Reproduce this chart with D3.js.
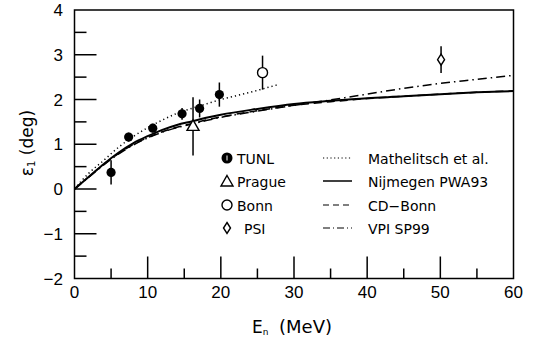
<!DOCTYPE html>
<html><head><meta charset="utf-8">
<script src="https://cdn.jsdelivr.net/npm/d3@7"></script>
<style>body{margin:0;background:#fff}svg{display:block}text{font-family:"Liberation Sans",Arial,sans-serif;fill:#000}.dv{font-family:"DejaVu Sans",sans-serif}</style>
</head><body><svg id="c" width="540" height="347"></svg>
<script>
// Data
const tunlE = [5.0, 7.4, 10.7, 14.7, 17.1, 19.8];
const tunlY = [0.37, 1.16, 1.36, 1.68, 1.80, 2.11];
const tunlErr = [0.27, 0.10, 0.10, 0.13, 0.20, 0.27];
const pragueE = [16.2], pragueY = [1.40], pragueErr = [0.65];
const bonnE = [25.7], bonnY = [2.60], bonnErr = [0.38];
const psiE = [50.1], psiY = [2.89], psiErr = [0.30];

const mathE = [0, 1, 2, 4, 6, 8, 10, 12, 14, 16, 18, 20, 22, 24, 26, 28];
const mathY = [0, 0.19, 0.36, 0.64, 0.93, 1.17, 1.37, 1.54, 1.69, 1.80, 1.90, 2.00, 2.08, 2.16, 2.25, 2.34];
const nijE = [0, 1, 2, 4, 6, 8, 10, 12, 14, 16, 18, 20, 25, 30, 35, 40, 45, 50, 55, 60];
const nijY = [0, 0.14, 0.28, 0.56, 0.81, 1.02, 1.18, 1.32, 1.43, 1.51, 1.59, 1.66, 1.79, 1.90, 1.97, 2.03, 2.07, 2.12, 2.16, 2.19];
const cdbE = [0, 2, 4, 6, 8, 10, 12, 14, 16, 18, 20, 25, 30, 35, 40, 45, 50, 55, 60];
const cdbY = [0, 0.28, 0.55, 0.79, 0.99, 1.15, 1.28, 1.38, 1.46, 1.54, 1.61, 1.75, 1.87, 1.95, 2.02, 2.07, 2.12, 2.16, 2.19];
const vpiE = [0, 2, 4, 6, 8, 10, 12, 14, 16, 18, 20, 25, 30, 35, 40, 45, 50, 55, 60];
const vpiY = [0, 0.27, 0.54, 0.78, 0.98, 1.14, 1.27, 1.37, 1.45, 1.53, 1.60, 1.74, 1.87, 1.99, 2.12, 2.25, 2.36, 2.45, 2.54];

const xTicks = [0, 10, 20, 30, 40, 50, 60];
const yTicks = [-2, -1, 0, 1, 2, 3, 4];
const legendData = ["TUNL", "Prague", "Bonn", "PSI"];
const legendCurves = ["Mathelitsch et al.", "Nijmegen PWA93", "CD\u2212Bonn", "VPI SP99"];

const svg = d3.select("#c");
const L = 74.5, R = 513.5, T = 10, B = 278.5;
const x = d3.scaleLinear().domain([0, 60]).range([L, R]);
const y = d3.scaleLinear().domain([-2, 4]).range([B, T]);

// frame
svg.append("rect").attr("x", L).attr("y", T).attr("width", R - L).attr("height", B - T)
  .attr("fill", "none").attr("stroke", "#000").attr("stroke-width", 1.5);

// x axis ticks
const xMinor = d3.range(5, 60, 10);
svg.append("g").selectAll("line").data(xTicks.slice(1, -1)).join("line")
  .attr("x1", d => x(d)).attr("x2", d => x(d)).attr("y1", B).attr("y2", B - 22)
  .attr("stroke", "#000").attr("stroke-width", 1.5);
svg.append("g").selectAll("line").data(xMinor).join("line")
  .attr("x1", d => x(d)).attr("x2", d => x(d)).attr("y1", B).attr("y2", B - 10)
  .attr("stroke", "#000").attr("stroke-width", 1.5);
svg.append("g").selectAll("text").data(xTicks).join("text")
  .attr("x", d => x(d)).attr("y", 298).attr("text-anchor", "middle").attr("font-size", 17)
  .text(d => d);

// y axis ticks
const yMinor = d3.range(-1.5, 4, 1);
svg.append("g").selectAll("line").data(yTicks.slice(1, -1)).join("line")
  .attr("x1", L).attr("x2", L + 22).attr("y1", d => y(d)).attr("y2", d => y(d))
  .attr("stroke", "#000").attr("stroke-width", 1.5);
svg.append("g").selectAll("line").data(yMinor).join("line")
  .attr("x1", L).attr("x2", L + 12).attr("y1", d => y(d)).attr("y2", d => y(d))
  .attr("stroke", "#000").attr("stroke-width", 1.5);
svg.append("g").selectAll("text").data(yTicks).join("text")
  .attr("x", 63).attr("y", d => y(d) + 6).attr("text-anchor", "end").attr("font-size", 17)
  .text(d => d < 0 ? "\u2212" + Math.abs(d) : d);

// axis titles
const xt = svg.append("text").attr("class", "dv").attr("x", 252).attr("y", 333).attr("font-size", 17);
xt.append("tspan").text("E");
xt.append("tspan").attr("font-size", 9).attr("dy", 2).text("n");
xt.append("tspan").attr("x", 279).attr("dy", -2).attr("font-size", 18).text("(MeV)");
const yt = svg.append("text").attr("class", "dv").attr("transform", "translate(33,143) rotate(-90)").attr("text-anchor", "middle").attr("font-size", 17);
yt.append("tspan").text("\u03b5");
yt.append("tspan").attr("font-size", 10).attr("dy", 2).text("1");
yt.append("tspan").attr("dy", -2).text(" (deg)");

// curves
const line = d3.line().x(d => x(d[0])).y(d => y(d[1])).curve(d3.curveMonotoneX);
function curve(E, Y, dash, w) {
  svg.append("path").attr("d", line(E.map((e, i) => [e, Y[i]])))
    .attr("fill", "none").attr("stroke", "#000").attr("stroke-width", w)
    .attr("stroke-dasharray", dash);
}
curve(mathE, mathY, "1.2,3", 1.5);
curve(cdbE, cdbY, "8,5", 1.5);
curve(vpiE, vpiY, "9,4,1.5,4", 1.5);
curve(nijE, nijY, null, 2);

// error bars and markers
function errs(E, Yv, Er) {
  svg.append("g").selectAll("line").data(E).join("line")
    .attr("x1", d => x(d)).attr("x2", d => x(d))
    .attr("y1", (d, i) => y(Yv[i] - Er[i])).attr("y2", (d, i) => y(Yv[i] + Er[i]))
    .attr("stroke", "#000").attr("stroke-width", 1.5);
}
errs(tunlE, tunlY, tunlErr);
errs(pragueE, pragueY, pragueErr);
errs(bonnE, bonnY, bonnErr);
errs(psiE, psiY, psiErr);

function triangle(g, cx, cy) {
  g.append("path").attr("d", "M0,-6.5L6,4L-6,4Z").attr("transform", `translate(${cx},${cy})`)
    .attr("fill", "#fff").attr("stroke", "#000").attr("stroke-width", 1.4);
}
function diamond(g, cx, cy) {
  g.append("path").attr("d", "M0,-5.5L3.5,0L0,5.5L-3.5,0Z").attr("transform", `translate(${cx},${cy})`)
    .attr("fill", "#fff").attr("stroke", "#000").attr("stroke-width", 1.4);
}
svg.append("g").selectAll("circle").data(tunlE).join("circle")
  .attr("cx", d => x(d)).attr("cy", (d, i) => y(tunlY[i])).attr("r", 4.6).attr("fill", "#000");
pragueE.forEach((e, i) => triangle(svg, x(e), y(pragueY[i])));
svg.append("g").selectAll("circle").data(bonnE).join("circle")
  .attr("cx", d => x(d)).attr("cy", (d, i) => y(bonnY[i])).attr("r", 5)
  .attr("fill", "#fff").attr("stroke", "#000").attr("stroke-width", 1.4);
psiE.forEach((e, i) => diamond(svg, x(e), y(psiY[i])));

// legend
const rowY = [158, 181, 205, 228];
const lg = svg.append("g");
lg.append("circle").attr("cx", 227).attr("cy", rowY[0]).attr("r", 5.5).attr("fill", "#000");
lg.append("line").attr("x1", 227).attr("x2", 227).attr("y1", rowY[0] - 2.5).attr("y2", rowY[0] + 2.5).attr("stroke", "#fff").attr("stroke-width", 1);
triangle(lg, 227, rowY[1] + 1);
lg.append("circle").attr("cx", 227).attr("cy", rowY[2]).attr("r", 5).attr("fill", "#fff").attr("stroke", "#000").attr("stroke-width", 1.4);
diamond(lg, 227, rowY[3]);
lg.selectAll("text.d").data(legendData).join("text").attr("class", "dv")
  .attr("x", (d, i) => i === 3 ? 244 : 237).attr("y", (d, i) => rowY[i] + 5.5).attr("font-size", 14).text(d => d);
const dashes = ["1.2,2.5", null, "6,4", "7,3,1,3"];
lg.selectAll("line.c").data(legendCurves).join("line").attr("class", "c")
  .attr("x1", 323).attr("x2", 352).attr("y1", (d, i) => rowY[i]).attr("y2", (d, i) => rowY[i])
  .attr("stroke", "#000").attr("stroke-width", (d, i) => i === 1 ? 1.5 : 1.2)
  .attr("stroke-dasharray", (d, i) => dashes[i]);
lg.selectAll("text.c").data(legendCurves).join("text").attr("class", "dv")
  .attr("x", 368).attr("y", (d, i) => rowY[i] + 5.5).attr("font-size", 14).text(d => d);
</script></body></html>
